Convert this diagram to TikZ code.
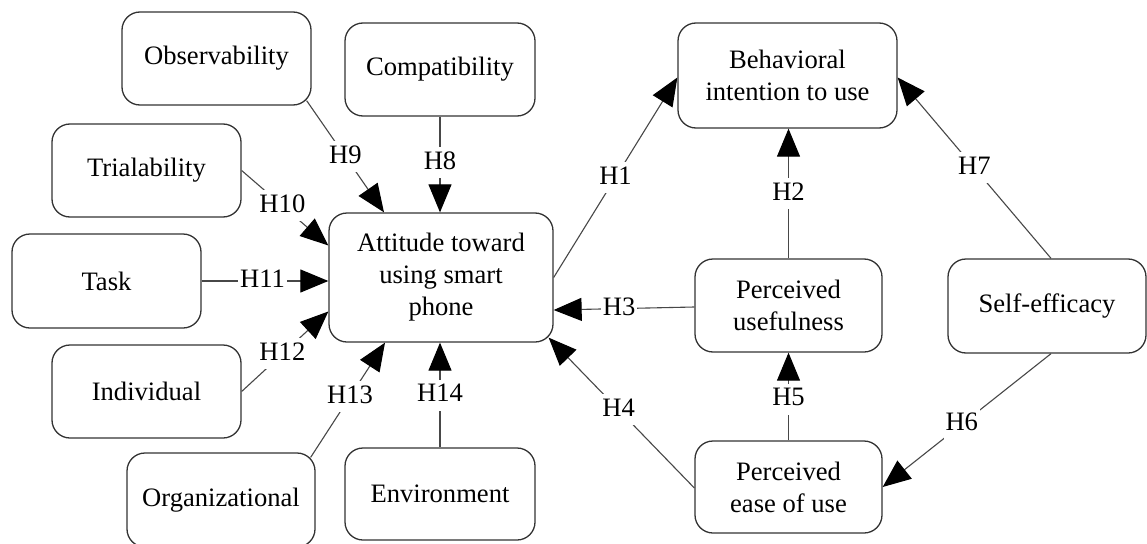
\documentclass[tikz,border=0pt]{standalone}
\usepackage{fontspec}
\setmainfont{Liberation Serif}
\usetikzlibrary{arrows.meta,calc}
\begin{document}
\begin{tikzpicture}[x=1pt,y=-1pt,
  box/.style={draw=black!80, line width=1.3pt, rounded corners=18pt, align=center, inner sep=0pt, font=\fontsize{26.6}{32}\selectfont},
  conn/.style={draw=black!72, line width=1.1pt, -{Triangle[length=28pt,width=23pt,color=black]}},
  lab/.style={fill=white, font=\fontsize{26.6}{32}\selectfont, inner xsep=2pt, inner ysep=3pt, text height=19pt, text depth=6pt}]
\useasboundingbox[fill=white] (0,0) rectangle (1147,543);

\node[box, minimum width=189pt, minimum height=93pt] (obs) at (216.5,58.5) {Observability};
\node[box, minimum width=190pt, minimum height=93pt] (comp) at (440,69.5) {Compatibility};
\node[box, minimum width=189pt, minimum height=93pt] (tri) at (146.5,170.5) {Trialability};
\node[box, minimum width=189pt, minimum height=94pt] (task) at (106.5,281) {Task};
\node[box, minimum width=224pt, minimum height=129pt] (att) at (441,277.5) {Attitude toward\\using smart\\phone};
\node[box, minimum width=189pt, minimum height=93pt] (ind) at (146.5,391.5) {Individual};
\node[box, minimum width=188pt, minimum height=94pt] (org) at (221,500) {Organizational};
\node[box, minimum width=190pt, minimum height=92pt] (env) at (440,494) {Environment};
\node[box, minimum width=219pt, minimum height=105pt] (beh) at (787.5,75.5) {Behavioral\\intention to use};
\node[box, minimum width=187pt, minimum height=93pt] (pu) at (788.5,305.5) {Perceived\\usefulness};
\node[box, minimum width=187pt, minimum height=92pt] (peu) at (788.5,487) {Perceived\\ease of use};
\node[box, minimum width=198pt, minimum height=94pt] (se) at (1047,306) {Self-efficacy};

\draw[conn] ($(obs.south east)+(-5,-5)$) -- node[lab,pos=0.5]{H9} ($(att.north)+(-57,0)$);
\draw[conn] (comp.south) -- node[lab,pos=0.48]{H8} (comp.south |- att.north);
\draw[conn] (tri.east) -- node[lab,pos=0.47]{H10} ($(att.west)+(0,-32)$);
\draw[conn] (task.east) -- node[lab,pos=0.48]{H11} (att.west |- task.east);
\draw[conn] (ind.east) -- node[lab,pos=0.47]{H12} ($(att.west)+(0,34)$);
\draw[conn] ($(org.north east)+(-5,5)$) -- node[lab,pos=0.53]{H13} ($(att.south)+(-56,0)$);
\draw[conn] (env.north) -- node[lab,pos=0.5]{H14} (env.north |- att.south);
\draw[conn] (att.east) -- node[lab,pos=0.5]{H1} ($(beh.west)+(0,2)$);
\draw[conn] (pu.north) -- node[lab,pos=0.5]{H2} (pu.north |- beh.south);
\draw[conn] ($(se.north)+(4,0)$) -- node[lab,pos=0.5]{H7} ($(beh.east)+(0,2)$);
\draw[conn] ($(pu.west)+(0,1.5)$) -- node[lab,pos=0.535]{H3} ($(att.east)+(0,32.5)$);
\draw[conn] ($(peu.west)+(0,1)$) -- node[lab,pos=0.52]{H4} ($(att.south east)+(-5,-5)$);
\draw[conn] (peu.north) -- node[lab,pos=0.47]{H5} (peu.north |- pu.south);
\draw[conn] ($(se.south)+(4,0)$) -- node[lab,pos=0.53]{H6} (peu.east);
\end{tikzpicture}
\end{document}
